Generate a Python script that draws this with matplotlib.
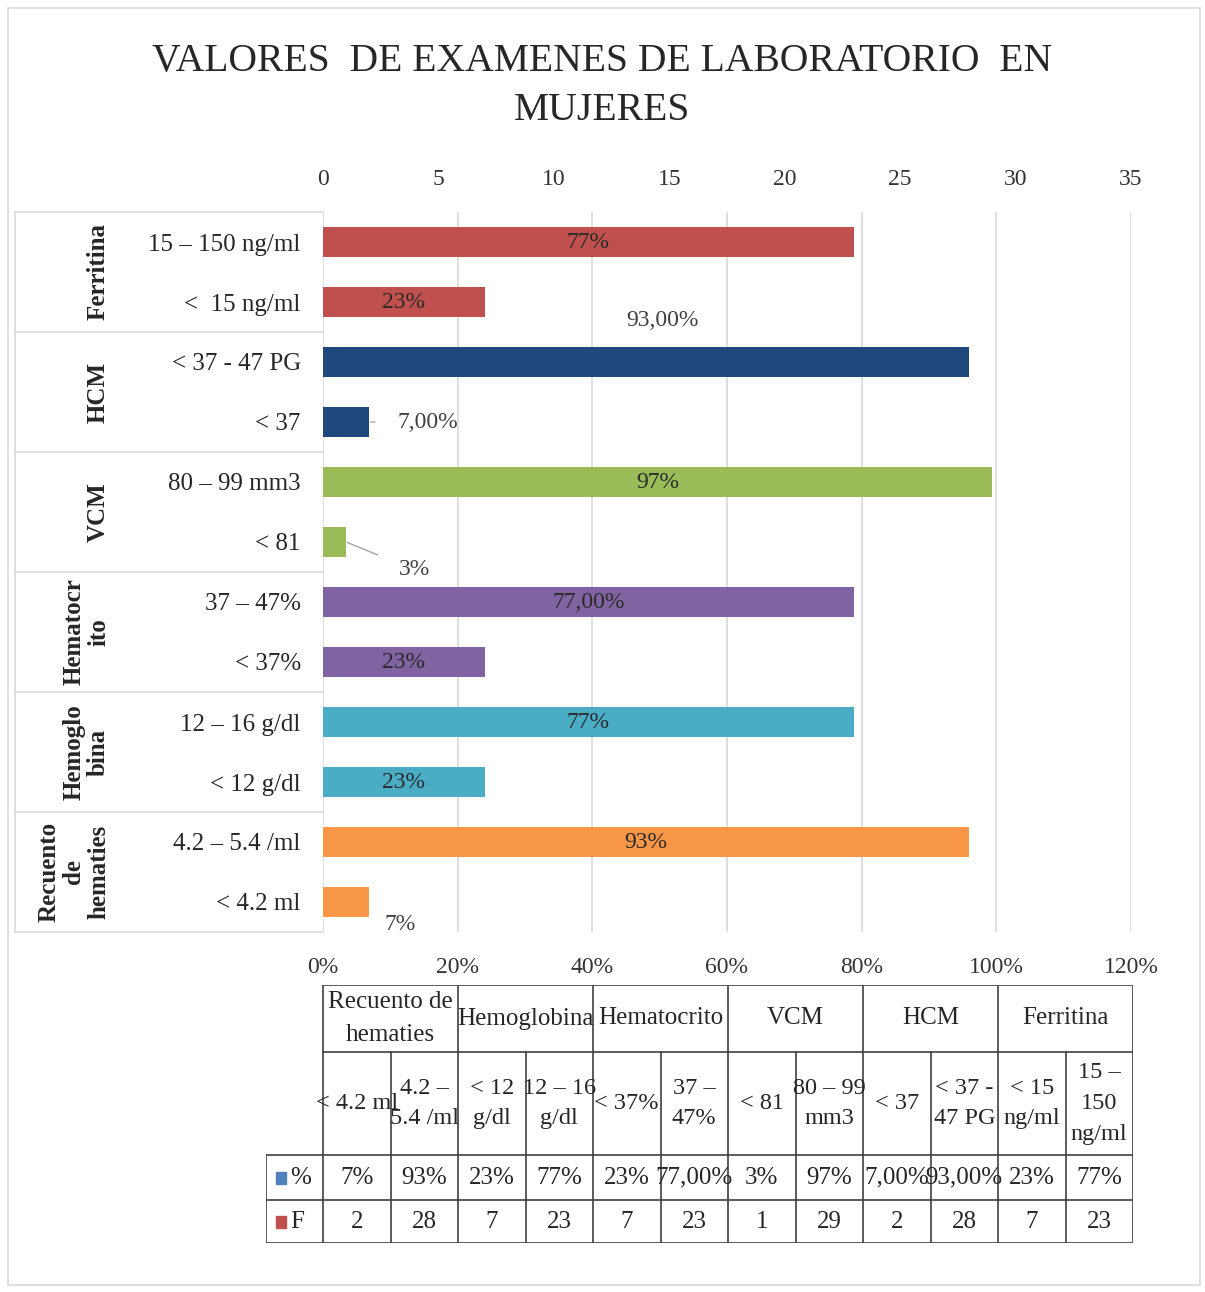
import matplotlib.pyplot as plt
from matplotlib.patches import Rectangle
from matplotlib.transforms import blended_transform_factory
from matplotlib.ticker import PercentFormatter

plt.rcParams['font.family'] = ['Liberation Serif', 'DejaVu Serif']

# datos: de abajo hacia arriba (mismo orden que la tabla)
grupos = ["Recuento\nde\nhematies", "Hemoglo\nbina", "Hematocr\nito", "VCM", "HCM", "Ferritina"]
grupos_tabla = ["Recuento de\nhematies", "Hemoglobina", "Hematocrito", "VCM", "HCM", "Ferritina"]
rangos = ["< 4.2 ml", "4.2 – 5.4 /ml", "< 12 g/dl", "12 – 16 g/dl", "< 37%", "37 – 47%",
          "< 81", "80 – 99 mm3", "< 37", "< 37 - 47 PG", "<  15 ng/ml", "15 – 150 ng/ml"]
rangos_tabla = ["< 4.2 ml", "4.2 –\n5.4 /ml", "< 12\ng/dl", "12 – 16\ng/dl", "< 37%", "37 –\n47%",
                "< 81", "80 – 99\nmm3", "< 37", "< 37 -\n47 PG", "< 15\nng/ml", "15 –\n150\nng/ml"]
porcentaje = [7, 93, 23, 77, 23, 77, 3, 97, 7, 93, 23, 77]
etiquetas_pct = ["7%", "93%", "23%", "77%", "23%", "77,00%",
                 "3%", "97%", "7,00%", "93,00%", "23%", "77%"]
frecuencia = [2, 28, 7, 23, 7, 23, 1, 29, 2, 28, 7, 23]
colores = ["#F79646", "#4BACC6", "#8064A2", "#9BBB59", "#1F497D", "#C0504D"]

W, H = 1205, 1292
fig = plt.figure(figsize=(W / 100, H / 100), dpi=100)


def caja(x0, y0, x1, y1):
    return [x0 / W, 1 - y1 / H, (x1 - x0) / W, (y1 - y0) / H]


# marco exterior
fig.patches.append(Rectangle((8 / W, 1 - 1285 / H), 1192 / W, 1277 / H, transform=fig.transFigure,
                             fill=False, edgecolor="#d9d9d9", lw=1.2))

fig.text(0.5, 1 - 86 / H, "VALORES  DE EXAMENES DE LABORATORIO  EN\nMUJERES", ha="center",
         va="center", fontsize=28.5, color="#262626", linespacing=1.45)

# eje de porcentajes (abajo) con la cuadricula
ax = fig.add_axes(caja(323, 212, 1131, 932))
ax.set_xlim(0, 1.2)
ax.set_xticks([0, 0.2, 0.4, 0.6, 0.8, 1.0, 1.2])
ax.xaxis.set_major_formatter(PercentFormatter(1.0, decimals=0))
ax.grid(axis="x", color="#d9d9d9", lw=1.2)
ax.set_axisbelow(True)
ax.set_ylim(-0.5, 11.5)
ax.set_yticks(range(len(rangos)))
ax.set_yticklabels(rangos)
ax.tick_params(axis="y", length=0, pad=16, labelsize=18, labelcolor="#262626")
ax.tick_params(axis="x", length=0, pad=18, labelsize=17, labelcolor="#333333")
for s in ax.spines.values():
    s.set_visible(False)

# eje de frecuencias (arriba) con las barras
axf = ax.twiny()
axf.set_xlim(0, 35)
axf.set_xticks(range(0, 36, 5))
axf.tick_params(axis="x", length=0, pad=16, labelsize=17, labelcolor="#333333")
for s in axf.spines.values():
    s.set_visible(False)

y = list(range(len(frecuencia)))
axf.barh(y, frecuencia, height=0.5, color=[colores[i // 2] for i in y])

# etiquetas de datos
especiales = {0: (22, -16), 6: (49, -20), 8: (42, 0)}
for i in y:
    if i in especiales:
        dx, dy = especiales[i]
        axf.annotate(etiquetas_pct[i], (frecuencia[i], i), xytext=(dx, dy), textcoords="offset points",
                     ha="center", va="center", fontsize=17, color="#404040",
                     arrowprops=dict(arrowstyle="-", color="#a6a6a6", lw=1,
                                     shrinkA=14, shrinkB=1) if i != 0 else None)
    elif i == 9:
        axf.annotate(etiquetas_pct[i], (frecuencia[i] / 2, i), xytext=(12, 30), textcoords="offset points",
                     ha="center", va="center", fontsize=17, color="#404040")
    else:
        axf.text(frecuencia[i] / 2, i, etiquetas_pct[i], ha="center", va="center",
                 fontsize=17, color="#2a2a2a")

# categorias agrupadas a la izquierda
tr = blended_transform_factory(ax.transAxes, ax.transData)
x_izq = (15 - 323) / 808
for g in range(len(grupos) + 1):
    ax.plot([x_izq, 0], [2 * g - 0.5, 2 * g - 0.5], color="#d9d9d9", lw=1.2,
            transform=tr, clip_on=False)
ax.plot([x_izq, x_izq], [-0.5, 11.5], color="#d9d9d9", lw=1.2, transform=tr, clip_on=False)
for g, nombre in enumerate(grupos):
    ax.text((110 - 323) / 808, 2 * g + 0.5, nombre, rotation=90, ha="right", va="center",
            fontsize=18, fontweight="bold", color="#262626", transform=tr,
            multialignment="center", linespacing=1.1)

# tabla de datos
tab = fig.add_axes(caja(266, 985, 1133, 1243))
x0 = -57 / 67.5
tab.set_xlim(x0, 12)
tab.set_ylim(258, 0)
tab.axis("off")
filas = [0, 67, 170, 215, 258]
lc = "#404040"
for yy in filas[:2]:
    tab.plot([0, 12], [yy, yy], color=lc, lw=1.2)
for yy in filas[2:]:
    tab.plot([x0, 12], [yy, yy], color=lc, lw=1.2)
for k in range(13):
    tab.plot([k, k], [0 if k % 2 == 0 else 67, 258], color=lc, lw=1.2)
tab.plot([x0, x0], [170, 258], color=lc, lw=1.2)

for g, nombre in enumerate(grupos_tabla):
    tab.text(2 * g + 1, 33.5, nombre, ha="center", va="center", fontsize=18,
             color="#262626", linespacing=1.6)
for i in y:
    tab.text(i + 0.5, 118.5, rangos_tabla[i], ha="center", va="center", fontsize=17.5,
             color="#262626", linespacing=1.6)
    tab.text(i + 0.5, 192.5, etiquetas_pct[i], ha="center", va="center", fontsize=18, color="#262626")
    tab.text(i + 0.5, 236.5, str(frecuencia[i]), ha="center", va="center", fontsize=18, color="#262626")

for fila, (serie, col) in enumerate([("%", "#4F81BD"), ("F", "#C0504D")]):
    yc = 192.5 + 44 * fila
    tab.add_patch(Rectangle((x0 + 10 / 67.5, yc - 6), 10 / 67.5, 12, color=col))
    tab.text(x0 + 24 / 67.5, yc, serie, ha="left", va="center", fontsize=18, color="#262626")

fig.savefig("out.png", dpi=100)
